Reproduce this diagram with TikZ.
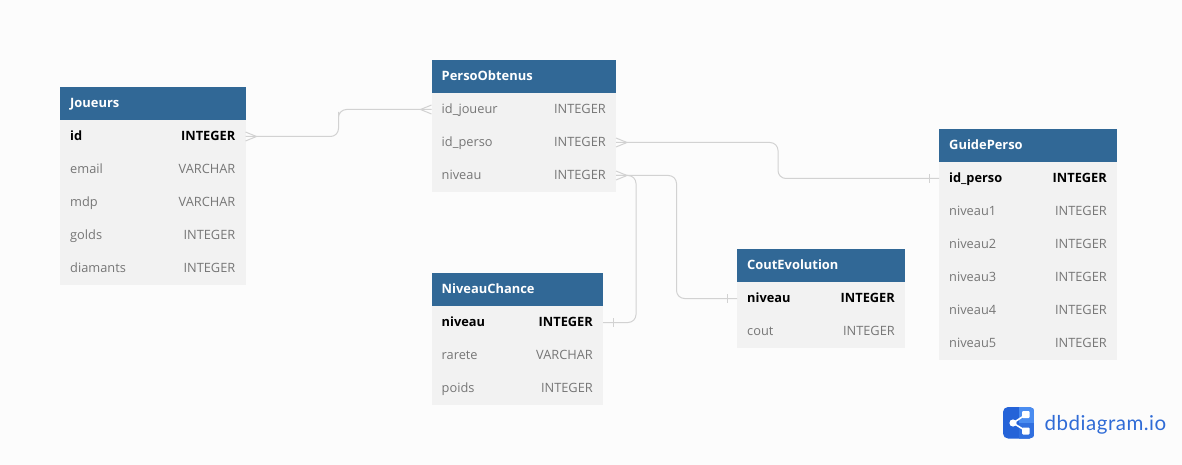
\documentclass[tikz,border=0pt]{standalone}
\usepackage{fontspec}
\setmainfont{Open Sans}
\newfontfamily\logofont[LetterSpace=2.5]{Lato}
\definecolor{bgc}{HTML}{FCFCFC}
\definecolor{headc}{HTML}{316896}
\definecolor{rowc}{HTML}{F2F2F2}
\definecolor{txtc}{HTML}{767676}
\definecolor{linec}{HTML}{D2D2D2}
\definecolor{logoa}{HTML}{2563D8}
\definecolor{logob}{HTML}{4A8CF0}
\definecolor{logot}{HTML}{2F6BD6}
\tikzset{
  x=1pt,y=-1pt,
  headbox/.style={draw=none,fill=headc,inner sep=0,outer sep=0,anchor=north west,minimum height=33pt},
  rowbox/.style={draw=none,fill=rowc,inner sep=0,outer sep=0,anchor=north west,minimum height=33pt},
  headtxt/.style={text=white,font=\fontsize{12.9}{15}\selectfont\bfseries,anchor=base west,inner sep=0},
  ltxt/.style={text=txtc,font=\fontsize{12.8}{15}\selectfont,anchor=base west,inner sep=0},
  rtxt/.style={text=txtc,font=\fontsize{12.8}{15}\selectfont,anchor=base east,inner sep=0},
  lbold/.style={text=black,font=\fontsize{12.8}{15}\selectfont\bfseries,anchor=base west,inner sep=0},
  rbold/.style={text=black,font=\fontsize{12.8}{15}\selectfont\bfseries,anchor=base east,inner sep=0},
  conn/.style={draw=linec,line width=1pt,rounded corners=8pt},
  endmark/.style={draw=linec,line width=1pt},
}
\newcommand{\tblhead}[5]{%
  \node[headbox,minimum width=#4pt] (#1) at (#2,#3) {};
  \node[headtxt] at ([xshift=10pt,yshift=-3.7pt]#1.west) {#5};
}
\newcommand{\tblrow}[7]{%
  \node[rowbox,minimum width=#3pt] (#1) at (#2.south west) {};
  \node[#6] at ([xshift=10pt,yshift=-3.7pt]#1.west) {#4};
  \node[#7] at ([xshift=-10pt,yshift=-3.7pt]#1.east) {#5};
}
\newcommand{\crowR}[1]{\draw[endmark] ([yshift=4.5pt]#1.east) -- ([xshift=11pt]#1.east) -- ([yshift=-4.5pt]#1.east);}
\newcommand{\crowL}[1]{\draw[endmark] ([yshift=4.5pt]#1.west) -- ([xshift=-11pt]#1.west) -- ([yshift=-4.5pt]#1.west);}
\newcommand{\barR}[1]{\draw[endmark] ([xshift=10pt,yshift=4.5pt]#1.east) -- ([xshift=10pt,yshift=-4.5pt]#1.east);}
\newcommand{\barL}[1]{\draw[endmark] ([xshift=-10pt,yshift=4.5pt]#1.west) -- ([xshift=-10pt,yshift=-4.5pt]#1.west);}
\begin{document}
\begin{tikzpicture}
\useasboundingbox (0,0) rectangle (1182,465);
\fill[bgc] (0,0) rectangle (1182,465);
% Joueurs
\tblhead{J}{60}{87}{185.5}{Joueurs}
\tblrow{J1}{J}{185.5}{id}{INTEGER}{lbold}{rbold}
\tblrow{J2}{J1}{185.5}{email}{VARCHAR}{ltxt}{rtxt}
\tblrow{J3}{J2}{185.5}{mdp}{VARCHAR}{ltxt}{rtxt}
\tblrow{J4}{J3}{185.5}{golds}{INTEGER}{ltxt}{rtxt}
\tblrow{J5}{J4}{185.5}{diamants}{INTEGER}{ltxt}{rtxt}
% PersoObtenus
\tblhead{P}{431.5}{60}{184.5}{PersoObtenus}
\tblrow{P1}{P}{184.5}{id\_joueur}{INTEGER}{ltxt}{rtxt}
\tblrow{P2}{P1}{184.5}{id\_perso}{INTEGER}{ltxt}{rtxt}
\tblrow{P3}{P2}{184.5}{niveau}{INTEGER}{ltxt}{rtxt}
% NiveauChance
\tblhead{N}{431.5}{273}{171.5}{NiveauChance}
\tblrow{N1}{N}{171.5}{niveau}{INTEGER}{lbold}{rbold}
\tblrow{N2}{N1}{171.5}{rarete}{VARCHAR}{ltxt}{rtxt}
\tblrow{N3}{N2}{171.5}{poids}{INTEGER}{ltxt}{rtxt}
% CoutEvolution
\tblhead{C}{737}{249}{168}{CoutEvolution}
\tblrow{C1}{C}{168}{niveau}{INTEGER}{lbold}{rbold}
\tblrow{C2}{C1}{168}{cout}{INTEGER}{ltxt}{rtxt}
% GuidePerso
\tblhead{G}{939}{129}{178}{GuidePerso}
\tblrow{G1}{G}{178}{id\_perso}{INTEGER}{lbold}{rbold}
\tblrow{G2}{G1}{178}{niveau1}{INTEGER}{ltxt}{rtxt}
\tblrow{G3}{G2}{178}{niveau2}{INTEGER}{ltxt}{rtxt}
\tblrow{G4}{G3}{178}{niveau3}{INTEGER}{ltxt}{rtxt}
\tblrow{G5}{G4}{178}{niveau4}{INTEGER}{ltxt}{rtxt}
\tblrow{G6}{G5}{178}{niveau5}{INTEGER}{ltxt}{rtxt}
% connectors
\coordinate (m1) at (338.5,120);
\coordinate (m2) at (778,160);
\coordinate (m3) at (636,250);
\coordinate (m4) at (676.5,240);
\draw[conn] (J1.east) -| (m1) |- (P1.west);
\draw[conn] (P2.east) -| (m2) |- (G1.west);
\draw[conn] (N1.east) -| (m3) |- (P3.east);
\draw[conn] (P3.east) -| (m4) |- (C1.west);
\crowR{J1}\crowL{P1}\crowR{P2}\crowR{P3}
\barL{G1}\barR{N1}\barL{C1}
% logo
\begin{scope}
\clip[rounded corners=5pt] (1003,407) rectangle (1034.5,438.5);
\fill[logoa] (1003,407) rectangle (1034.5,438.5);
\fill[logob] (1018.5,407) rectangle (1034.5,422.5);
\fill[logoa!70!logob] (1018.5,422.5) rectangle (1034.5,438.5);
\end{scope}
\coordinate (lgA) at (1013,423);
\coordinate (lgB) at (1026,414.5);
\coordinate (lgC) at (1026,431);
\draw[white,line width=1.6pt] (lgB) -- (lgA) -- (lgC);
\fill[white] (lgA) circle (3.6pt);
\fill[white,rounded corners=1pt] (1022,411) rectangle (1029.5,418);
\fill[white,rounded corners=1pt] (1022,427.5) rectangle (1029.5,434.5);
\node[text=logot,font=\logofont\fontsize{20.5}{22}\selectfont,anchor=base west,inner sep=0] (lg) at (1044.5,430) {dbdiagram.io};
\end{tikzpicture}
\end{document}
